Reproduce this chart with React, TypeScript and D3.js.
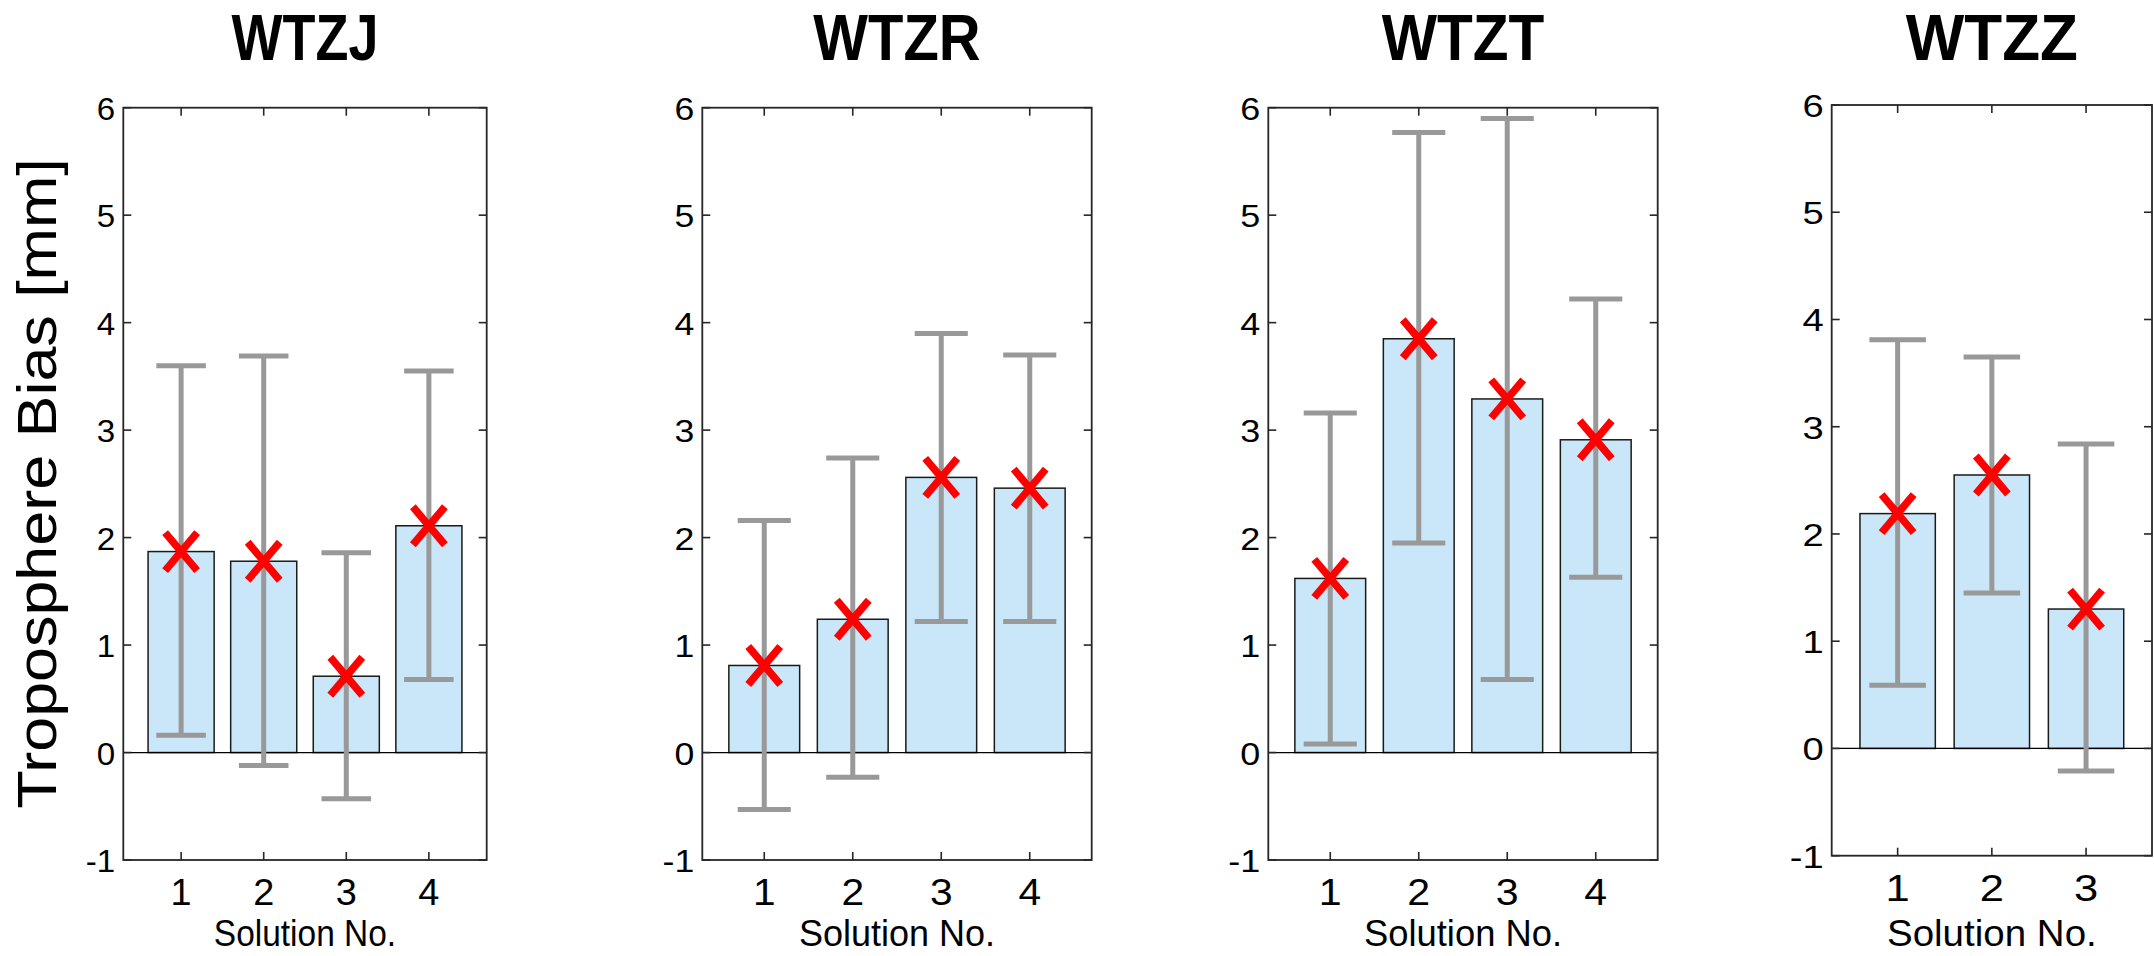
import * as d3 from 'd3';

const stations = ['WTZJ', 'WTZR', 'WTZT', 'WTZZ'];
const solutions = [[1, 2, 3, 4], [1, 2, 3, 4], [1, 2, 3, 4], [1, 2, 3]];
const yTicks = [-1, 0, 1, 2, 3, 4, 5, 6];

const biasWTZJ = [1.87, 1.78, 0.71, 2.11];
const upperWTZJ = [3.6, 3.69, 1.86, 3.55];
const lowerWTZJ = [0.16, -0.12, -0.43, 0.68];

const biasWTZR = [0.81, 1.24, 2.56, 2.46];
const upperWTZR = [2.16, 2.74, 3.9, 3.7];
const lowerWTZR = [-0.53, -0.23, 1.22, 1.22];

const biasWTZT = [1.62, 3.85, 3.29, 2.91];
const upperWTZT = [3.16, 5.77, 5.9, 4.22];
const lowerWTZT = [0.08, 1.95, 0.68, 1.63];

const biasWTZZ = [2.19, 2.55, 1.3];
const upperWTZZ = [3.81, 3.65, 2.84];
const lowerWTZZ = [0.59, 1.45, -0.21];

const bias = [biasWTZJ, biasWTZR, biasWTZT, biasWTZZ];
const upper = [upperWTZJ, upperWTZR, upperWTZT, upperWTZZ];
const lower = [lowerWTZJ, lowerWTZR, lowerWTZT, lowerWTZZ];

// pixel box of each axes, and a horizontal text squeeze per panel
const layout = [
  { left: 123.3, right: 486.7, top: 107.7, bottom: 860, xmax: 4.7, sx: 0.93 },
  { left: 702.3, right: 1091.7, top: 107.7, bottom: 860, xmax: 4.7, sx: 1 },
  { left: 1268.3, right: 1657.7, top: 107.7, bottom: 860, xmax: 4.7, sx: 1.01 },
  { left: 1831.7, right: 2152, top: 105, bottom: 855.7, xmax: 3.7, sx: 1.07 },
];

const FONT = '"Liberation Sans", Arial, Helvetica, sans-serif';
const BAR_FILL = '#c9e7f9';
const ERR = '#999999';

function Panel({ i }) {
  const L = layout[i];
  const x = d3.scaleLinear().domain([0.3, L.xmax]).range([L.left, L.right]);
  const y = d3.scaleLinear().domain([-1, 6]).range([L.bottom, L.top]);
  const ux = x(1) - x(0);
  const vals = bias[i];
  const cx = (L.left + L.right) / 2;
  const tick = 8;

  return (
    <g>
      <text
        transform={`translate(${cx},60) scale(${L.sx},1.12)`}
        textAnchor="middle"
        fontFamily={FONT}
        fontWeight="bold"
        fontSize={58}
      >
        {stations[i]}
      </text>

      {/* bars */}
      {solutions[i].map((s, k) => (
        <rect
          key={'b' + k}
          x={x(s - 0.4)}
          y={y(Math.max(vals[k], 0))}
          width={0.8 * ux}
          height={Math.abs(y(vals[k]) - y(0))}
          fill={BAR_FILL}
          stroke="#1a1a1a"
          strokeWidth={1.5}
        />
      ))}

      {/* zero baseline */}
      <line x1={L.left} x2={L.right} y1={y(0)} y2={y(0)} stroke="#000" strokeWidth={1.2} />

      {/* error bars */}
      {solutions[i].map((s, k) => (
        <g key={'e' + k} stroke={ERR} strokeWidth={5}>
          <line x1={x(s)} x2={x(s)} y1={y(upper[i][k])} y2={y(lower[i][k])} />
          <line x1={x(s - 0.3)} x2={x(s + 0.3)} y1={y(upper[i][k])} y2={y(upper[i][k])} />
          <line x1={x(s - 0.3)} x2={x(s + 0.3)} y1={y(lower[i][k])} y2={y(lower[i][k])} />
        </g>
      ))}

      {/* markers */}
      {solutions[i].map((s, k) => (
        <g key={'m' + k} stroke="#ff0000" strokeWidth={7.5}>
          <line x1={x(s) - 16} x2={x(s) + 16} y1={y(vals[k]) - 19} y2={y(vals[k]) + 19} />
          <line x1={x(s) - 16} x2={x(s) + 16} y1={y(vals[k]) + 19} y2={y(vals[k]) - 19} />
        </g>
      ))}

      {/* axes box and ticks */}
      <rect
        x={L.left}
        y={L.top}
        width={L.right - L.left}
        height={L.bottom - L.top}
        fill="none"
        stroke="#262626"
        strokeWidth={1.8}
      />
      {yTicks.map((t) => (
        <g key={'yt' + t} stroke="#262626" strokeWidth={1.6}>
          <line x1={L.left} x2={L.left + tick} y1={y(t)} y2={y(t)} />
          <line x1={L.right} x2={L.right - tick} y1={y(t)} y2={y(t)} />
        </g>
      ))}
      {solutions[i].map((s) => (
        <g key={'xt' + s} stroke="#262626" strokeWidth={1.6}>
          <line x1={x(s)} x2={x(s)} y1={L.bottom} y2={L.bottom - tick} />
          <line x1={x(s)} x2={x(s)} y1={L.top} y2={L.top + tick} />
        </g>
      ))}

      {yTicks.map((t) => (
        <text
          key={'yl' + t}
          transform={`translate(${L.left - 8},${y(t) + 12}) scale(${1.15 * L.sx},1.03)`}
          textAnchor="end"
          fontFamily={FONT}
          fontSize={31}
        >
          {t}
        </text>
      ))}
      {solutions[i].map((s) => (
        <text
          key={'xl' + s}
          transform={`translate(${x(s)},${L.bottom + 45}) scale(${1.1 * L.sx},1)`}
          textAnchor="middle"
          fontFamily={FONT}
          fontSize={37}
        >
          {s}
        </text>
      ))}
      <text
        transform={`translate(${cx},${Math.min(L.bottom + 90, 946)}) scale(${L.sx},1.03)`}
        textAnchor="middle"
        fontFamily={FONT}
        fontSize={36}
      >
        Solution No.
      </text>
    </g>
  );
}

export default function App() {
  return (
    <svg
      width={2154}
      height={956}
      style={{ position: 'absolute', left: 0, top: 0, background: '#fff' }}
    >
      <rect width={2154} height={956} fill="#fff" />
      <text
        transform="translate(56,483.5) rotate(-90) scale(1.047,0.93)"
        textAnchor="middle"
        fontFamily={FONT}
        fontSize={60}
      >
        Troposphere Bias [mm]
      </text>
      {stations.map((s, i) => (
        <Panel key={s} i={i} />
      ))}
    </svg>
  );
}
